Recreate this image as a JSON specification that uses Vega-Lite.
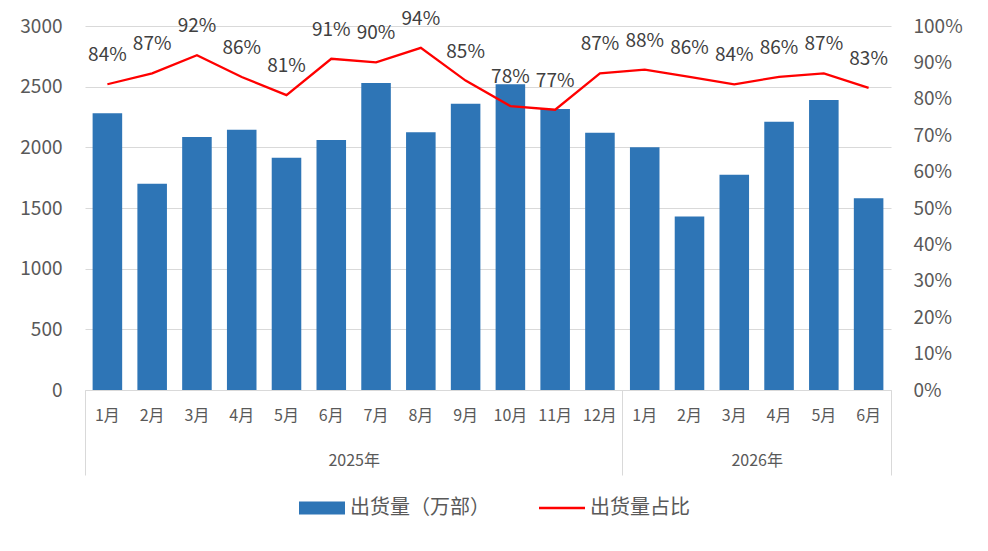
{
  "$schema": "https://vega.github.io/schema/vega-lite/v6.json",
  "background": "white",
  "width": 806,
  "height": 364,
  "autosize": {"type": "none"},
  "padding": {"left": 85, "top": 26, "right": 97, "bottom": 161},
  "data": {
    "values": [
      {"period": "2025-01", "year": "2025年", "ship": 2280, "share": 0.84},
      {"period": "2025-02", "year": "2025年", "ship": 1700, "share": 0.87},
      {"period": "2025-03", "year": "2025年", "ship": 2085, "share": 0.92},
      {"period": "2025-04", "year": "2025年", "ship": 2145, "share": 0.86},
      {"period": "2025-05", "year": "2025年", "ship": 1915, "share": 0.81},
      {"period": "2025-06", "year": "2025年", "ship": 2060, "share": 0.91},
      {"period": "2025-07", "year": "2025年", "ship": 2530, "share": 0.90},
      {"period": "2025-08", "year": "2025年", "ship": 2125, "share": 0.94},
      {"period": "2025-09", "year": "2025年", "ship": 2360, "share": 0.85},
      {"period": "2025-10", "year": "2025年", "ship": 2520, "share": 0.78},
      {"period": "2025-11", "year": "2025年", "ship": 2315, "share": 0.77},
      {"period": "2025-12", "year": "2025年", "ship": 2120, "share": 0.87},
      {"period": "2026-01", "year": "2026年", "ship": 2000, "share": 0.88},
      {"period": "2026-02", "year": "2026年", "ship": 1430, "share": 0.86},
      {"period": "2026-03", "year": "2026年", "ship": 1775, "share": 0.84},
      {"period": "2026-04", "year": "2026年", "ship": 2210, "share": 0.86},
      {"period": "2026-05", "year": "2026年", "ship": 2390, "share": 0.87},
      {"period": "2026-06", "year": "2026年", "ship": 1580, "share": 0.83}
    ]
  },
  "layer": [
    {
      "layer": [
        {
          "mark": {"type": "bar"},
          "encoding": {
            "x": {
              "field": "period",
              "type": "nominal",
              "title": null,
              "scale": {"paddingInner": 0.34, "paddingOuter": 0.17},
              "axis": {
                "labelExpr": "toNumber(slice(datum.label, 5)) + '月'",
                "labelAngle": 0,
                "ticks": false,
                "domainColor": "#d9d9d9",
                "labelPadding": 17,
                "labelFontSize": 16,
                "labelColor": "#595959"
              }
            },
            "y": {
              "field": "ship",
              "type": "quantitative",
              "title": null,
              "scale": {"domain": [0, 3000], "nice": false},
              "axis": {
                "orient": "left",
                "values": [0, 500, 1000, 1500, 2000, 2500, 3000],
                "format": "d",
                "grid": true,
                "gridColor": "#d9d9d9",
                "domain": false,
                "ticks": false,
                "labelPadding": 23,
                "labelFontSize": 19,
                "labelColor": "#595959"
              }
            },
            "color": {
              "datum": "出货量（万部）",
              "type": "nominal",
              "scale": {
                "domain": ["出货量（万部）", "出货量占比"],
                "range": ["#2e75b6", "#ff0000"]
              },
              "legend": {
                "orient": "none",
                "legendX": 227,
                "legendY": 472,
                "direction": "horizontal",
                "title": null,
                "labelFontSize": 20,
                "labelColor": "#595959",
                "symbolSize": 2116,
                "columnPadding": 44,
                "labelOffset": 18,
                "padding": 0,
                "encode": {
                  "symbols": {
                    "update": {
                      "shape": {"signal": "datum.label == '出货量占比' ? 'stroke' : 'M-1,-0.28H1V0.28H-1Z'"},
                      "strokeWidth": {"signal": "datum.label == '出货量占比' ? 2.5 : 0"},
                      "fill": {"signal": "datum.label == '出货量占比' ? '#ff0000' : '#2e75b6'"},
                      "stroke": {"signal": "datum.label == '出货量占比' ? '#ff0000' : '#2e75b6'"},
                      "opacity": {"value": 1}
                    }
                  }
                }
              }
            }
          }
        },
        {
          "mark": {"type": "line", "strokeWidth": 2.25},
          "encoding": {
            "x": {"field": "period", "type": "nominal"},
            "y": {
              "field": "share",
              "type": "quantitative",
              "title": null,
              "scale": {"domain": [0, 1], "nice": false},
              "axis": {
                "orient": "right",
                "values": [0, 0.1, 0.2, 0.3, 0.4, 0.5, 0.6, 0.7, 0.8, 0.9, 1],
                "format": ".0%",
                "grid": false,
                "domain": false,
                "ticks": false,
                "labelPadding": 22,
                "labelFontSize": 19,
                "labelColor": "#595959"
              }
            },
            "color": {"datum": "出货量占比", "type": "nominal"}
          }
        },
        {
          "mark": {"type": "text", "dy": -29, "fontSize": 19, "color": "#404040", "baseline": "middle"},
          "encoding": {
            "x": {"field": "period", "type": "nominal"},
            "y": {
              "field": "share",
              "type": "quantitative",
              "scale": {"domain": [0, 1], "nice": false},
              "axis": null
            },
            "text": {"field": "share", "type": "quantitative", "format": ".0%"}
          }
        }
      ],
      "resolve": {"scale": {"y": "independent"}}
    },
    {
      "mark": {"type": "rule", "opacity": 0},
      "encoding": {
        "x": {
          "datum": 0,
          "type": "quantitative",
          "scale": {"domain": [0, 18], "nice": false, "zero": false},
          "axis": {
            "orient": "bottom",
            "title": null,
            "values": [0, 6, 12, 15, 18],
            "domain": false,
            "grid": false,
            "ticks": true,
            "tickSize": 85,
            "tickColor": "#d9d9d9",
            "tickOpacity": {"condition": {"test": "datum.value == 6 || datum.value == 15", "value": 0}, "value": 1},
            "labelExpr": "datum.value == 6 ? '2025年' : datum.value == 15 ? '2026年' : ''",
            "labelPadding": -23,
            "labelFontSize": 16,
            "labelColor": "#595959",
            "labelOverlap": false,
            "labelFlush": false,
            "labelBound": false
          }
        }
      }
    }
  ],
  "resolve": {"scale": {"x": "independent", "y": "independent"}},
  "config": {
    "font": "Noto Sans CJK SC",
    "view": {"stroke": null}
  }
}
